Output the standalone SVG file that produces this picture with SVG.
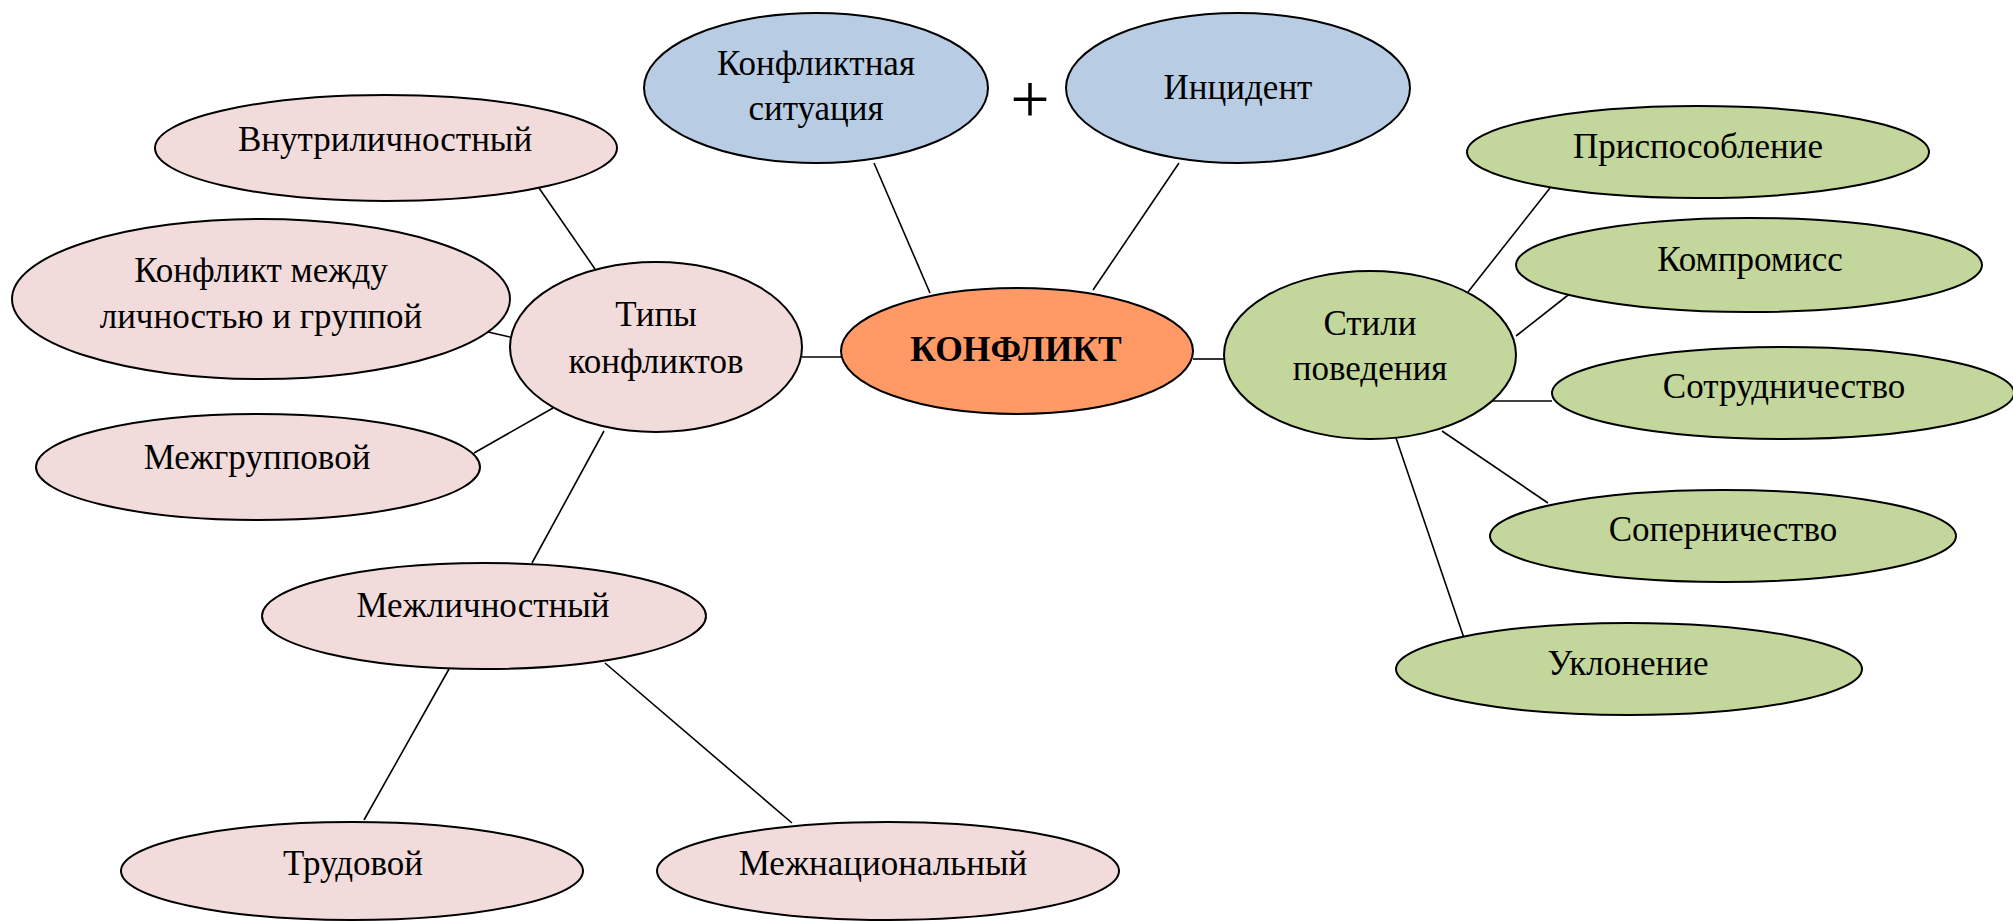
<svg xmlns="http://www.w3.org/2000/svg" width="2013" height="921" viewBox="0 0 2013 921">
<style>
.n{stroke:#000;stroke-width:2}
.pink{fill:#F2DCDB}
.blue{fill:#B8CCE4}
.green{fill:#C3D69B}
.orange{fill:#FF9A66}
text{font-family:"Liberation Serif","Times New Roman",serif;font-size:35px;fill:#000;text-anchor:middle}
.b{font-weight:bold;font-size:35.5px}
#connectors line{stroke:#000;stroke-width:1.6}
</style>
<rect width="2013" height="921" fill="#fff"/>
<g id="connectors">
<line x1="874" y1="163" x2="930" y2="293"/>
<line x1="1179" y1="163" x2="1093" y2="290"/>
<line x1="539" y1="188" x2="595" y2="269"/>
<line x1="488" y1="332" x2="510" y2="337"/>
<line x1="802" y1="357" x2="842" y2="357"/>
<line x1="553" y1="408" x2="474" y2="453"/>
<line x1="604" y1="431" x2="532" y2="563"/>
<line x1="449" y1="669" x2="364" y2="820"/>
<line x1="605" y1="663" x2="792" y2="823"/>
<line x1="1193" y1="359" x2="1224" y2="359"/>
<line x1="1468" y1="292" x2="1550" y2="188"/>
<line x1="1516" y1="336" x2="1572" y2="292"/>
<line x1="1493" y1="401" x2="1552" y2="401"/>
<line x1="1442" y1="431" x2="1548" y2="503"/>
<line x1="1396" y1="438" x2="1464" y2="638"/>
</g>
<g id="situation"><ellipse class="n blue" cx="816" cy="88" rx="172" ry="75"/><text x="816" y="75">Конфликтная</text><text x="816" y="120">ситуация</text></g>
<g id="plus"><text x="1030" y="123" style="font-size:70px">+</text></g>
<g id="incident"><ellipse class="n blue" cx="1238" cy="88" rx="172" ry="75"/><text x="1238" y="99">Инцидент</text></g>
<g id="intrapersonal"><ellipse class="n pink" cx="386" cy="148" rx="231" ry="53"/><text x="385" y="151">Внутриличностный</text></g>
<g id="person-group"><ellipse class="n pink" cx="261" cy="299" rx="249" ry="80"/><text x="261" y="282">Конфликт между</text><text x="261" y="328">личностью и группой</text></g>
<g id="types"><ellipse class="n pink" cx="656" cy="347" rx="146" ry="85"/><text x="656" y="326">Типы</text><text x="656" y="373">конфликтов</text></g>
<g id="conflict"><ellipse class="n orange" cx="1017" cy="351" rx="176" ry="63"/><text class="b" x="1016" y="361">КОНФЛИКТ</text></g>
<g id="intergroup"><ellipse class="n pink" cx="258" cy="467" rx="222" ry="53"/><text x="257" y="469">Межгрупповой</text></g>
<g id="interpersonal"><ellipse class="n pink" cx="484" cy="616" rx="222" ry="53"/><text x="483" y="617">Межличностный</text></g>
<g id="labour"><ellipse class="n pink" cx="352" cy="871" rx="231" ry="49"/><text x="353" y="875">Трудовой</text></g>
<g id="interethnic"><ellipse class="n pink" cx="888" cy="871" rx="231" ry="49"/><text x="883" y="875">Межнациональный</text></g>
<g id="styles"><ellipse class="n green" cx="1370" cy="355" rx="146" ry="84"/><text x="1370" y="335">Стили</text><text x="1370" y="380">поведения</text></g>
<g id="adaptation"><ellipse class="n green" cx="1698" cy="152" rx="231" ry="46"/><text x="1698" y="158">Приспособление</text></g>
<g id="compromise"><ellipse class="n green" cx="1749" cy="265" rx="233" ry="47"/><text x="1750" y="271">Компромисс</text></g>
<g id="cooperation"><ellipse class="n green" cx="1783" cy="393" rx="231" ry="46"/><text x="1784" y="398">Сотрудничество</text></g>
<g id="competition"><ellipse class="n green" cx="1723" cy="536" rx="233" ry="46"/><text x="1723" y="541">Соперничество</text></g>
<g id="avoidance"><ellipse class="n green" cx="1629" cy="669" rx="233" ry="46"/><text x="1628" y="675">Уклонение</text></g>
</svg>
